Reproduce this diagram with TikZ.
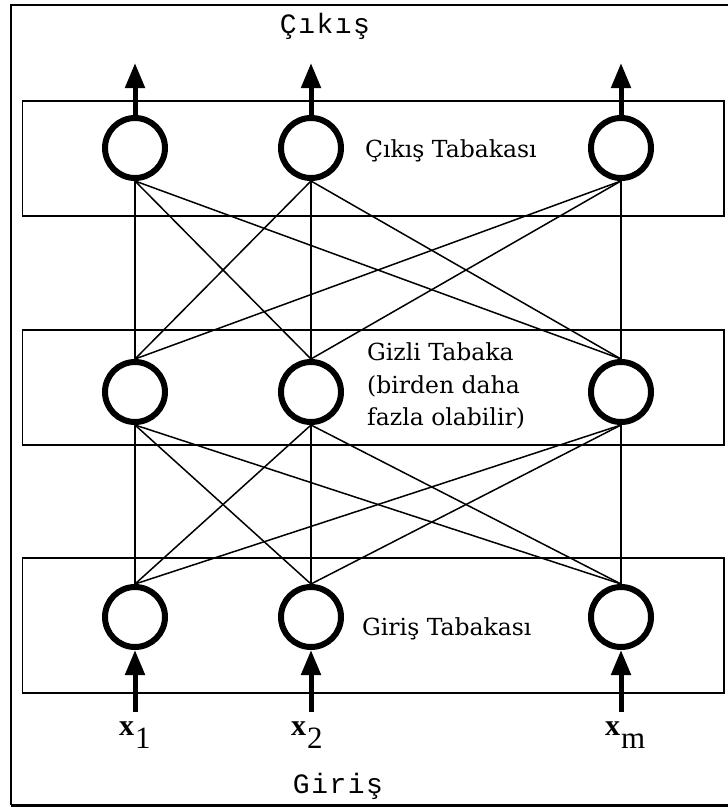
\documentclass[tikz,border=0pt]{standalone}
\usepackage{fontspec}
\setmainfont{DejaVu Serif}
\newfontfamily\monof{Liberation Mono}
\newfontfamily\timesf{Liberation Serif}
\usetikzlibrary{arrows.meta}
\begin{document}
\begin{tikzpicture}[x=1pt,y=-1pt,
  neuron/.style={circle,draw,line width=6pt,minimum size=60pt,inner sep=0pt},
  layerbox/.style={draw,line width=1.8pt,minimum width=701.5pt,minimum height=115pt,anchor=north west,inner sep=0pt},
  conn/.style={line width=1.5pt},
  iotip/.style={line width=5pt,-{Triangle[length=25pt,width=19pt]}},
  lbl/.style={font=\fontsize{23.5}{32.5}\selectfont,align=left,inner sep=0pt},
  title/.style={font=\monof\fontsize{28}{30}\selectfont,inner sep=0pt,anchor=base},
  xlbl/.style={inner sep=0pt,anchor=base west}]
\useasboundingbox (0,0) rectangle (728,807);
% outer frame
\draw[line width=2.5pt] (11,805) -- (11,5) -- (740,5);
\draw[line width=3pt] (11,805) -- (740,805);
% layer boxes
\node[layerbox] (Lout) at (21.5,100) {};
\node[layerbox] (Lhid) at (21.5,329) {};
\node[layerbox,minimum height=135pt] (Lin) at (21.5,557) {};
% neurons
\node[neuron] (o1) at (135,148) {};
\node[neuron] (o2) at (311,148) {};
\node[neuron] (o3) at (621,148) {};
\node[neuron] (h1) at (135,392) {};
\node[neuron] (h2) at (311,392) {};
\node[neuron] (h3) at (621,392) {};
\node[neuron] (i1) at (135,617) {};
\node[neuron] (i2) at (311,617) {};
\node[neuron] (i3) at (621,617) {};
% connections
\foreach \a in {o1,o2,o3}{\foreach \b in {h1,h2,h3}{\draw[conn] (\a.south) -- (\b.north);}}
\foreach \a in {h1,h2,h3}{\foreach \b in {i1,i2,i3}{\draw[conn] (\a.south) -- (\b.north);}}
% output arrows
\coordinate (out1) at (135,63);
\coordinate (out2) at (311,63);
\coordinate (out3) at (621,63);
\draw[iotip] (o1.north) -- (out1);
\draw[iotip] (o2.north) -- (out2);
\draw[iotip] (o3.north) -- (out3);
% input arrows
\coordinate (in1) at (135,712);
\coordinate (in2) at (311,712);
\coordinate (in3) at (621,712);
\draw[iotip] (in1) -- (i1.south);
\draw[iotip] (in2) -- (i2.south);
\draw[iotip] (in3) -- (i3.south);
% labels
\node[title] (tcikis) at (325,33) {Ç\kern1.5pt ı\kern1.5pt k\kern1.5pt ı\kern1.5pt ş};
\node[title] (tgiris) at (338,793) {G\kern1.5pt i\kern1.5pt r\kern1.5pt i\kern1.5pt ş};
\node[lbl,anchor=base west] (lout) at (365,157) {Çıkış Tabakası};
\node[lbl,anchor=north west] (lhid) at (367,342.5) {Gizli Tabaka\\(birden daha\\fazla olabilir)};
\node[lbl,anchor=base west] (lin) at (362,635) {Giriş Tabakası};
% inputs
\node[xlbl] (x1) at (119,735) {{\timesf\bfseries\fontsize{30}{32}\selectfont x}\kern1pt\raisebox{-13pt}{\timesf\fontsize{31}{32}\selectfont 1}};
\node[xlbl] (x2) at (291,735) {{\timesf\bfseries\fontsize{30}{32}\selectfont x}\kern1pt\raisebox{-13pt}{\timesf\fontsize{31}{32}\selectfont 2}};
\node[xlbl] (xm) at (605,735) {{\timesf\bfseries\fontsize{30}{32}\selectfont x}\kern1pt\raisebox{-13pt}{\timesf\fontsize{31}{32}\selectfont m}};
\end{tikzpicture}
\end{document}
